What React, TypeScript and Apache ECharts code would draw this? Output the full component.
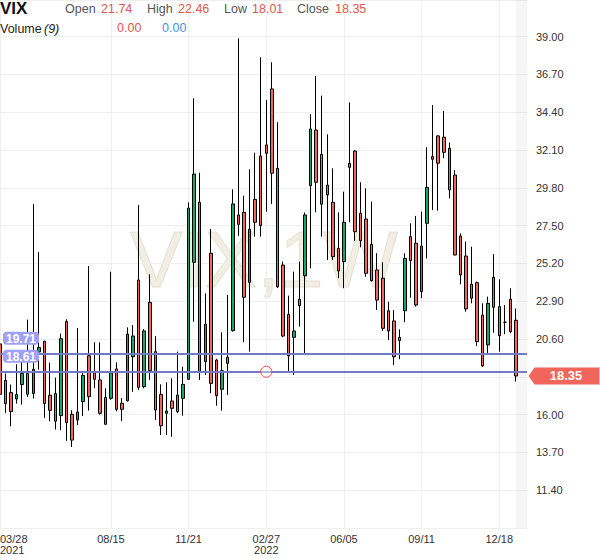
import React, { useEffect, useRef } from 'react';
import * as echarts from 'echarts';

const dates = [
  '2021-03-28','2021-04-04','2021-04-11','2021-04-18','2021-04-25','2021-05-02','2021-05-09','2021-05-16','2021-05-23','2021-05-30',
  '2021-06-06','2021-06-13','2021-06-20','2021-06-27','2021-07-04','2021-07-11','2021-07-18','2021-07-25','2021-08-01','2021-08-08',
  '2021-08-15','2021-08-22','2021-08-29','2021-09-05','2021-09-12','2021-09-19','2021-09-26','2021-10-03','2021-10-10','2021-10-17',
  '2021-10-24','2021-10-31','2021-11-07','2021-11-14','2021-11-21','2021-11-28','2021-12-05','2021-12-12','2021-12-19','2021-12-26',
  '2022-01-02','2022-01-09','2022-01-16','2022-01-23','2022-01-30','2022-02-06','2022-02-13','2022-02-20','2022-02-27','2022-03-06',
  '2022-03-13','2022-03-20','2022-03-27','2022-04-03','2022-04-10','2022-04-17','2022-04-24','2022-05-01','2022-05-08','2022-05-15',
  '2022-05-22','2022-05-29','2022-06-05','2022-06-12','2022-06-19','2022-06-26','2022-07-03','2022-07-10','2022-07-17','2022-07-24',
  '2022-07-31','2022-08-07','2022-08-14','2022-08-21','2022-08-28','2022-09-04','2022-09-11','2022-09-18','2022-09-25','2022-10-02',
  '2022-10-09','2022-10-16','2022-10-23','2022-10-30','2022-11-06','2022-11-13','2022-11-20','2022-11-27','2022-12-04','2022-12-11',
  '2022-12-18','2022-12-25','2023-01-01','2023-01-08','2023-01-15','2023-01-22',
];

const opens = [
  20.30,18.09,17.34,16.95,17.83,18.50,17.28,19.81,20.46,17.18,
  17.28,15.94,21.66,16.02,15.67,16.79,19.58,18.55,18.11,17.05,
  16.99,18.78,16.69,16.84,19.52,24.19,17.70,22.83,19.83,17.23,
  16.08,16.83,17.19,16.99,18.15,25.27,28.92,19.22,25.82,19.32,
  17.54,19.49,21.11,28.15,28.31,24.05,29.10,31.74,32.41,35.82,
  30.99,25.10,22.10,20.70,23.02,24.45,29.93,33.32,31.84,29.97,
  28.92,26.12,25.31,31.29,32.04,28.25,27.90,26.36,24.80,24.30,
  22.32,21.70,20.70,22.32,26.83,26.43,23.48,27.64,31.70,32.96,
  32.88,32.21,30.58,26.87,25.65,23.93,24.03,22.06,20.24,24.36,
  22.57,21.62,23.02,21.74,
];
const highs = [
  21.65,18.50,17.83,19.06,19.65,21.78,28.83,25.89,20.50,19.16,
  18.25,20.93,21.80,16.26,21.27,18.61,25.04,20.40,20.40,17.60,
  24.70,19.18,17.00,21.31,21.45,28.76,21.20,24.54,20.78,17.84,
  17.97,18.21,19.83,18.91,28.92,35.25,30.72,23.38,27.30,19.40,
  21.01,23.28,29.71,38.90,29.32,30.93,31.94,37.75,35.15,37.44,
  33.79,25.31,23.24,24.70,25.31,28.30,34.28,36.61,35.41,33.06,
  30.99,28.31,29.57,35.00,32.10,30.14,29.77,28.96,25.82,25.27,
  22.87,22.37,21.19,25.82,27.64,28.09,28.35,32.27,34.84,33.00,
  34.48,32.55,30.89,27.03,26.52,26.22,24.10,22.77,23.18,25.77,
  24.23,22.67,23.69,22.46,
];
const lows = [
  17.05,16.10,15.29,16.67,16.61,17.07,16.98,18.74,15.80,15.60,
  15.09,15.05,14.40,14.03,15.37,15.91,16.24,17.60,16.00,15.40,
  16.90,16.20,15.61,16.80,17.39,17.50,17.60,18.11,15.67,14.76,
  14.76,14.65,16.08,15.93,18.10,21.65,18.11,18.41,17.30,16.54,
  16.24,17.19,21.05,26.87,20.40,19.83,26.83,26.83,28.35,28.82,
  23.70,20.70,18.57,18.41,21.35,19.73,24.90,28.31,26.83,25.41,
  25.41,24.30,23.69,27.70,26.58,26.18,24.39,24.10,22.37,21.09,
  20.54,19.02,19.37,21.62,23.11,22.57,23.08,25.51,28.45,28.41,
  31.60,29.16,25.70,23.93,22.26,22.77,20.17,18.91,19.73,20.98,
  19.83,20.89,20.95,18.01,
];
const closes = [
  17.24,16.67,16.19,17.22,18.50,17.24,18.76,20.09,16.67,16.26,
  15.60,20.62,15.52,14.45,16.16,18.39,17.09,18.15,16.08,15.41,
  18.55,16.32,16.32,20.90,20.78,17.66,21.09,18.67,16.28,15.32,
  16.22,16.38,16.18,17.84,28.56,30.64,18.61,21.50,17.90,17.15,
  18.67,19.12,28.82,27.58,23.14,27.28,27.70,27.50,31.90,30.69,
  23.78,20.78,19.57,21.09,22.63,28.15,33.38,30.14,28.80,29.37,
  25.61,24.74,27.70,31.05,27.13,26.58,24.60,24.15,22.97,21.25,
  21.09,19.52,20.50,25.51,25.37,22.67,26.26,29.83,31.54,31.30,
  31.96,29.67,25.71,24.50,22.43,23.08,20.44,18.96,22.77,22.53,
  20.80,21.62,21.05,18.35,
];

const xTickDates = ['2021-03-28','2021-08-15','2021-11-21','2022-02-27','2022-06-05','2022-09-11','2022-12-18'];
const yMin = 9.1;
const yMax = 41.23;
const yStep = 2.3;
const levelLines = [19.71, 18.61];
const alertDate = '2022-02-27';
const alertValue = 18.61;
const header = { open: 21.74, high: 22.46, low: 18.01, close: 18.35 };
const volumeValues = [0.0, 0.0];

const FONT = 'Arial, "Liberation Sans", sans-serif';
const RED = '#f2655c';
const GREEN = '#14a86a';

export default function App() {
  const ref = useRef<HTMLDivElement>(null);
  useEffect(() => {
    const chart = echarts.init(ref.current!, null, { renderer: 'svg' });
    const candles = opens.map((o, i) => [o, closes[i], lows[i], highs[i]]);
    const tickIdx = new Set(xTickDates.map((d) => dates.indexOf(d)));
    const yearShown = new Set<string>();
    let prevYear = '';
    xTickDates.forEach((d) => {
      const y = d.slice(0, 4);
      if (y !== prevYear) yearShown.add(d);
      prevYear = y;
    });
    const lastDate = dates[dates.length - 1];
    const lastCandleDate = dates[candles.length - 1];

    const txt = (x: number, y: number, text: string, fill: string, font: string) => ({
      type: 'text', x, y, silent: true, z: 100,
      style: { text, fill, font, verticalAlign: 'middle', textVerticalAlign: 'middle' },
    });

    const option: any = {
      animation: false,
      grid: { left: 0, right: 73, top: 0, bottom: 30, containLabel: false, outerBoundsMode: 'none' },
      xAxis: {
        type: 'category',
        data: dates,
        boundaryGap: false,
        axisLine: { show: false },
        axisTick: { show: false },
        axisLabel: {
          interval: (i: number) => tickIdx.has(i),
          formatter: (v: string) => {
            const [y, m, d] = v.split('-');
            return yearShown.has(v) ? `${m}/${d}\n${y}` : `${m}/${d}`;
          },
          color: '#333',
          fontSize: 11,
          lineHeight: 11,
          margin: 5,
          fontFamily: FONT,
          alignMinLabel: 'left',
        },
        splitLine: { show: true, interval: (i: number) => tickIdx.has(i), lineStyle: { color: '#efefef', width: 1 } },
      },
      yAxis: {
        type: 'value',
        position: 'right',
        min: yMin,
        max: yMax,
        interval: yStep,
        axisLine: { show: false },
        axisTick: { show: false },
        axisLabel: {
          // the tick hidden under the last-close tag is not drawn
          formatter: (v: number) => (Math.abs(v - header.close) < 0.5 ? '' : v.toFixed(2)),
          color: '#333',
          fontSize: 11,
          margin: 9,
          fontFamily: FONT,
          showMinLabel: false,
          showMaxLabel: false,
        },
        splitLine: { lineStyle: { color: '#efefef', width: 1 } },
      },
      series: [
        {
          type: 'candlestick',
          data: candles,
          barWidth: 3,
          clip: true,
          itemStyle: {
            color: GREEN,
            color0: RED,
            borderColor: '#000',
            borderColor0: '#000',
            borderColorDoji: '#000',
            borderWidth: 1,
          },
          markArea: {
            silent: true,
            itemStyle: { color: 'rgba(0,0,0,0.035)' },
            data: [[{ xAxis: lastCandleDate }, { xAxis: lastDate }]],
          },
          markLine: {
            silent: true,
            symbol: ['none', 'none'],
            lineStyle: { color: '#7479c4', width: 2, type: 'solid' },
            label: {
              show: true,
              position: 'insideStartTop',
              distance: [3, 9],
              formatter: (p: any) => Number(p.value).toFixed(2),
              color: '#fff',
              fontWeight: 'bold',
              fontSize: 12,
              fontFamily: FONT,
              backgroundColor: '#a0a0f6',
              borderRadius: 4,
              padding: [1, 3, 0, 3],
            },
            data: levelLines.map((v) => ({ yAxis: v })),
          },
          markPoint: {
            silent: true,
            data: [
              {
                coord: [alertDate, alertValue],
                symbol: 'circle',
                symbolSize: 11,
                itemStyle: { color: 'rgba(255,255,255,0.4)', borderColor: '#f04848', borderWidth: 1 },
                label: { show: false },
              },
              {
                coord: [lastDate, header.close],
                symbol: 'path://M0,8 L6,0 L71,0 L71,16 L6,16 Z',
                symbolSize: [71, 17],
                symbolKeepAspect: false,
                symbolOffset: [37, 0],
                itemStyle: { color: RED },
                label: {
                  show: true,
                  position: 'inside',
                  formatter: header.close.toFixed(2),
                  color: '#fff',
                  fontWeight: 'bold',
                  fontSize: 13,
                  fontFamily: FONT,
                  offset: [2, 0],
                },
              },
            ],
          },
        },
      ],
      graphic: [
        {
          type: 'text', x: 264, y: 259, z: -10, silent: true,
          style: {
            text: 'VIX,1W', font: '79px Arial, "Liberation Sans", sans-serif',
            fill: 'rgba(225,218,195,0.45)', stroke: 'rgba(205,195,165,0.45)', lineWidth: 1,
            align: 'center', verticalAlign: 'middle', textAlign: 'center', textVerticalAlign: 'middle',
          },
        },
        txt(0, 8.5, 'VIX', '#111', `bold 17px ${FONT}`),
        txt(65, 9, 'Open', '#555', `12.5px ${FONT}`),
        txt(101, 9, header.open.toFixed(2), '#e0574c', `12.5px ${FONT}`),
        txt(147, 9, 'High', '#555', `12.5px ${FONT}`),
        txt(178, 9, header.high.toFixed(2), '#e0574c', `12.5px ${FONT}`),
        txt(224, 9, 'Low', '#555', `12.5px ${FONT}`),
        txt(252, 9, header.low.toFixed(2), '#e0574c', `12.5px ${FONT}`),
        txt(297, 9, 'Close', '#555', `12.5px ${FONT}`),
        txt(335, 9, header.close.toFixed(2), '#e0574c', `12.5px ${FONT}`),
        txt(0, 29, 'Volume', '#222', `12.5px ${FONT}`),
        txt(44, 29, '(9)', '#222', `italic 12.5px ${FONT}`),
        txt(117, 28, volumeValues[0].toFixed(2), '#e0574c', `12.5px ${FONT}`),
        txt(162, 28, volumeValues[1].toFixed(2), '#4a8fe7', `12.5px ${FONT}`),
      ],
    };
    chart.setOption(option);
    return () => chart.dispose();
  }, []);
  return <div ref={ref} style={{ position: 'absolute', left: 0, top: 0, width: 600, height: 558 }} />;
}
